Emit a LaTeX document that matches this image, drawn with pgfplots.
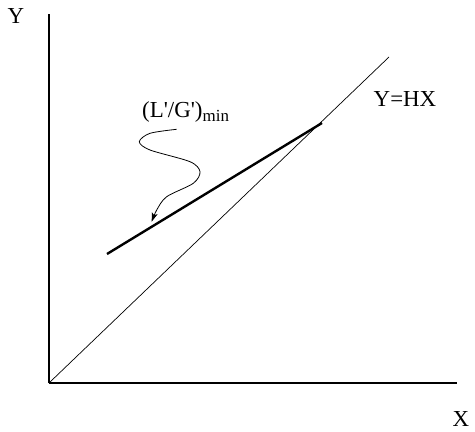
\documentclass[border=0pt]{standalone}
\usepackage{fontspec}
\setmainfont{Liberation Serif}
\usepackage{pgfplots}
\pgfplotsset{compat=1.18}
\usetikzlibrary{arrows.meta}
\begin{document}
\begin{tikzpicture}
\begin{axis}[name=ax, anchor=south west, at={(0,0)},
  scale only axis, width=408bp, height=369bp,
  xmin=0, xmax=408, ymin=0, ymax=369,
  axis lines=left, axis line style={-, line width=1.3pt},
  xtick=\empty, ytick=\empty, clip=false]
\addplot[black, line width=0.7pt] coordinates {(0,0) (340,326)};
\addplot[black, line width=2.4pt] coordinates {(58,129) (273,260)};
\addplot[black, line width=0.8pt, smooth, -{Stealth[length=9pt,width=6pt,inset=2pt]}] coordinates {
 (127.7,253.7) (101,249.7) (90.3,241.3) (101,233) (141,221.3) (151,211.3) (144.3,199.7) (117.7,186.3) (107.7,173) (102.7,161.3)};
\node[font=\fontsize{23}{26}\selectfont, inner sep=1pt] at (axis cs:-33,367) {Y};
\node[font=\fontsize{23}{26}\selectfont, inner sep=0pt] at (axis cs:412,-36) {X};
\node[font=\fontsize{23}{26}\selectfont] at (axis cs:356,283.5) {Y=HX};
\node[font=\fontsize{23}{26}\selectfont, anchor=base west, inner sep=0pt] at (axis cs:93,265) {(L\textquotesingle/G\textquotesingle)\raisebox{-0.3ex}{\fontsize{17}{20}\selectfont min}};
\end{axis}
\path (0,0) ++(-49bp,-49bp) rectangle ++(475bp,432bp);
\end{tikzpicture}
\end{document}
